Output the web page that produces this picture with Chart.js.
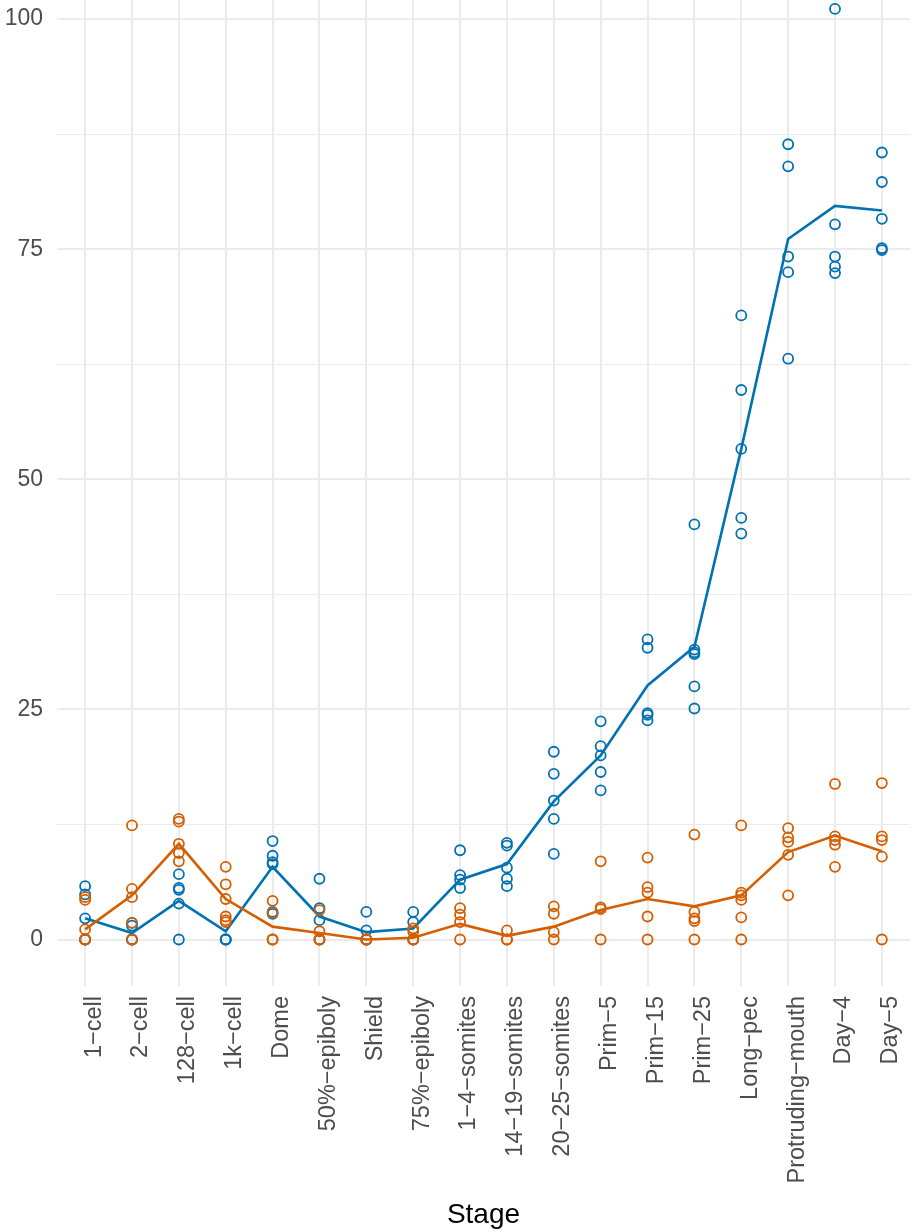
<!DOCTYPE html>
<html>
<head>
<meta charset="utf-8">
<script src="https://cdn.jsdelivr.net/npm/chart.js"></script>
<style>
    body { margin: 0; background: #ffffff; }
    #wrap { width: 912px; height: 1232px; }
</style>
</head>
<body>
<div id="wrap"><canvas id="stageChart"></canvas></div>
<script>
var stages = ["1\u2212cell", "2\u2212cell", "128\u2212cell", "1k\u2212cell", "Dome", "50%\u2212epiboly", "Shield",
    "75%\u2212epiboly", "1\u22124\u2212somites", "14\u221219\u2212somites", "20\u221225\u2212somites", "Prim\u22125",
    "Prim\u221215", "Prim\u221225", "Long\u2212pec", "Protruding\u2212mouth", "Day\u22124", "Day\u22125"];

/* replicate values per stage */
var blueReps = [
    [5.8, 4.9, 2.3, 0, 0],
    [1.8, 1.5, 0, 0],
    [7.1, 5.6, 5.4, 3.9, 0],
    [0, 0, 0],
    [10.7, 9.1, 8.4, 8.2, 3.0, 2.8],
    [6.6, 3.4, 2.1, 0],
    [3.0, 1.0, 0],
    [3.0, 1.9, 0],
    [9.7, 7.0, 6.5, 5.6],
    [10.5, 10.2, 7.8, 6.6, 5.8],
    [20.4, 18.0, 15.1, 13.1, 9.3],
    [23.7, 21.0, 20.0, 18.2, 16.2],
    [32.6, 31.7, 24.6, 24.4, 23.8],
    [45.1, 31.5, 31.2, 31.0, 27.5, 25.1],
    [67.8, 59.7, 53.3, 45.8, 44.1],
    [86.4, 84.0, 74.2, 72.5, 63.1],
    [101.1, 77.7, 74.2, 73.1, 72.4],
    [85.5, 82.3, 78.3, 75.1, 74.9]
];
var orangeReps = [
    [4.6, 4.3, 1.1, 0, 0],
    [12.4, 5.5, 4.6, 1.8, 0],
    [13.1, 12.8, 10.4, 9.4, 8.5],
    [7.9, 6.0, 4.4, 2.5, 2.1, 1.9],
    [4.2, 2.9, 0, 0],
    [3.2, 0.9, 0, 0],
    [0, 0, 0],
    [1.2, 0.9, 0, 0],
    [3.4, 2.7, 1.9, 0],
    [1.0, 0, 0],
    [3.6, 2.8, 0.8, 0],
    [8.5, 3.5, 3.3, 0],
    [8.9, 5.7, 5.1, 2.5, 0],
    [11.4, 3.0, 2.3, 2.0, 0],
    [12.4, 5.1, 4.8, 4.3, 2.4, 0],
    [12.1, 11.1, 10.6, 9.2, 4.8],
    [16.9, 11.2, 10.8, 10.3, 7.9],
    [17.0, 11.2, 10.8, 9.0, 0]
];

/* mean lines */
var blueMean = [2.3, 0.7, 4.2, 0.9, 7.9, 2.5, 0.8, 1.2, 6.5, 8.2, 15.0, 20.0, 27.6, 31.8, 53.3, 76.1, 79.7, 79.2];
var orangeMean = [1.1, 4.8, 10.4, 4.4, 1.4, 0.7, 0, 0.2, 1.7, 0.4, 1.4, 3.2, 4.4, 3.6, 4.8, 9.5, 11.3, 9.6];

var yTicks = [0, 12.5, 25, 37.5, 50, 62.5, 75, 87.5, 100];
var yMajor = [0, 25, 50, 75, 100];

var blueColor = "#0072B2";
var orangeColor = "#D55E00";
var fontFamily = '"Liberation Sans", Arial, Helvetica, sans-serif';
// rotated labels sit just right of their grid line (in category units)
var labelShift = 0.19;

function toPoints(reps) {
    var pts = [];
    reps.forEach(function (vals, i) {
        vals.forEach(function (v) {
            pts.push({ x: i, y: v });
        });
    });
    return pts;
}
function toLine(means) {
    return means.map(function (v, i) { return { x: i, y: v }; });
}

function pointSet(reps, color) {
    return {
        data: toPoints(reps),
        showLine: false,
        pointRadius: 5,
        pointBorderWidth: 1.8,
        pointBorderColor: color,
        pointBackgroundColor: "rgba(0,0,0,0)",
        borderColor: color
    };
}
function lineSet(means, color) {
    return {
        data: toLine(means),
        borderColor: color,
        borderWidth: 2.6,
        pointRadius: 0,
        tension: 0
    };
}

var ctx = document.getElementById("stageChart");
// first dataset is drawn on top, orange sits above blue
var stageChart = new Chart(ctx, {
    type: 'line',
    data: {
        datasets: [
            lineSet(orangeMean, orangeColor),
            pointSet(orangeReps, orangeColor),
            lineSet(blueMean, blueColor),
            pointSet(blueReps, blueColor)
        ]
    },
    options: {
        responsive: true,
        maintainAspectRatio: false,
        animation: false,
        layout: { autoPadding: false, padding: { top: 0, right: 2, bottom: 0, left: 0 } },
        plugins: {
            legend: { display: false },
            tooltip: { enabled: false }
        },
        scales: {
            /* grid-only x scale */
            x: {
                type: 'linear',
                min: -0.6,
                max: 17.6,
                afterBuildTicks: function (scale) {
                    scale.ticks = stages.map(function (s, i) { return { value: i }; });
                },
                afterFit: function (scale) {
                    scale.height = 0;
                    scale.paddingLeft = 0;
                    scale.paddingRight = 0;
                },
                ticks: { display: false },
                grid: { color: '#EBEBEB', lineWidth: 2, drawTicks: false },
                border: { display: false }
            },
            /* label-only x scale */
            xl: {
                type: 'linear',
                position: 'bottom',
                min: -0.6,
                max: 17.6,
                afterBuildTicks: function (scale) {
                    scale.ticks = stages.map(function (s, i) { return { value: i + labelShift }; });
                },
                afterFit: function (scale) {
                    scale.height = 246;
                    scale.paddingLeft = 0;
                    scale.paddingRight = 0;
                },
                ticks: {
                    autoSkip: false,
                    minRotation: 90,
                    maxRotation: 90,
                    padding: 10,
                    color: '#4D4D4D',
                    font: { family: fontFamily, size: 23.5 },
                    callback: function (value) { return stages[Math.round(value - labelShift)]; }
                },
                grid: { display: false, drawTicks: false },
                border: { display: false },
                title: {
                    display: true,
                    text: 'Stage',
                    color: '#000000',
                    font: { family: fontFamily, size: 28 },
                    padding: { top: 0, bottom: 0 }
                }
            },
            y: {
                min: -5.05,
                max: 102.07,
                afterBuildTicks: function (scale) {
                    scale.ticks = yTicks.map(function (v) { return { value: v }; });
                },
                afterFit: function (scale) {
                    scale.width = 57;
                    scale.paddingTop = 0;
                    scale.paddingBottom = 0;
                },
                ticks: {
                    padding: 14,
                    color: '#4D4D4D',
                    font: { family: fontFamily, size: 23 },
                    callback: function (value) {
                        return yMajor.indexOf(value) >= 0 ? String(value) : '';
                    }
                },
                grid: {
                    color: '#EBEBEB',
                    drawTicks: false,
                    lineWidth: function (c) {
                        return (c.tick && yMajor.indexOf(c.tick.value) >= 0) ? 2 : 1;
                    }
                },
                border: { display: false }
            }
        }
    }
});
</script>
</body>
</html>
